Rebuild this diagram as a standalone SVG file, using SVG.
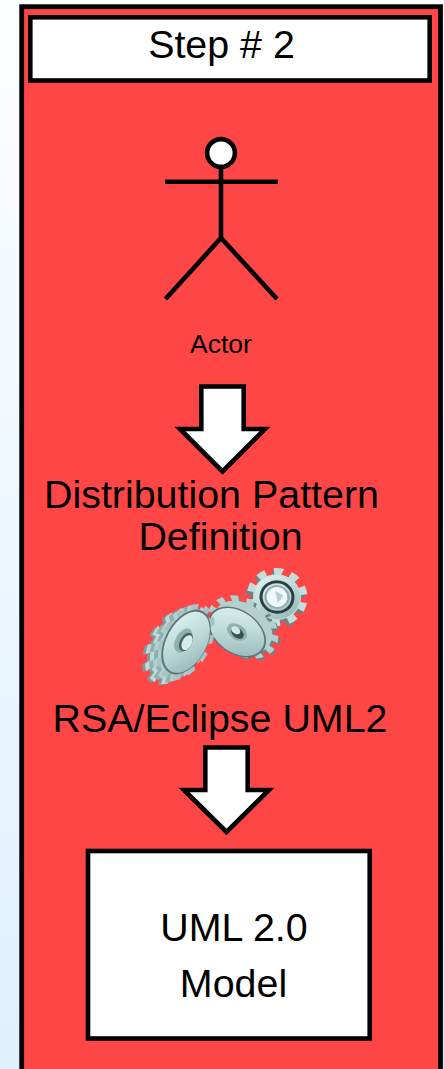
<svg xmlns="http://www.w3.org/2000/svg" width="444" height="1069" viewBox="0 0 444 1069">
<style>
text{font-family:"Liberation Sans",Arial,sans-serif;fill:#000;text-anchor:middle}
.l{font-size:39.4px}
.box{fill:#fff;stroke:#000;stroke-width:4.6}
.line{fill:none;stroke:#000;stroke-width:4.6}
.t{fill:none;stroke:currentColor;stroke-dasharray:1 1}
.b{fill:currentColor}
</style>
<defs>
<linearGradient id="bg" x1="0" y1="0" x2="0" y2="1"><stop offset="0" stop-color="#fdfeff"/><stop offset="1" stop-color="#def0ff"/></linearGradient>
<linearGradient id="face" x1="0" y1="0" x2="1" y2="1"><stop offset="0" stop-color="#e2f5f4"/><stop offset=".5" stop-color="#bcdad9"/><stop offset="1" stop-color="#8fb0b0"/></linearGradient>
<g id="s1" transform="translate(186 642) rotate(28) scale(.6 1)"><circle r="34" class="b"/><circle r="36" pathLength="24" class="t" stroke-width="10"/></g>
<g id="s2" transform="translate(243 627) rotate(35) scale(1 .72)"><circle r="32" class="b"/><circle r="34" pathLength="26" class="t" stroke-width="9"/></g>
<g id="s3" transform="translate(277 597) rotate(12) scale(1 .95)"><circle r="24" class="b"/><circle r="26" pathLength="20" class="t" stroke-width="9"/></g>
</defs>
<rect width="444" height="1069" fill="url(#bg)"/>
<g id="panel"><rect x="21.7" y="6.7" width="418.8" height="1080" fill="#ff4646" stroke="#000" stroke-width="4.8"/></g>
<g id="header"><rect class="box" x="30.3" y="17.3" width="399.4" height="63.2"/><text class="l" x="221.500" y="58">Step # 2</text></g>
<g id="actor">
<circle cx="221" cy="153" r="13.9" class="box"/>
<path class="line" d="M221 167V238M165 181.7H278M165.500 299L221 238L277 299"/>
<text x="221" y="353" font-size="26.500">Actor</text>
</g>
<g id="connectors">
<path class="box" d="M201.300 386.500H243.700V429H265L222.500 471.500L180 429H201.300Z"/>
<path class="box" d="M205.300 747.500H247.700V790H269L226.500 832L184 790H205.300Z"/>
</g>
<g id="pattern"><text class="l" x="211.500" y="508">Distribution Pattern</text><text class="l" x="220.500" y="550">Definition</text></g>
<g id="gears">
<g id="gear3">
<use href="#s3" x="-2" y="3" color="#6b8586"/>
<use href="#s3" color="#c4dedd"/>
<g transform="translate(277 597) rotate(12) scale(1 .95)">
<circle r="23" fill="url(#face)"/>
<circle r="16" fill="none" stroke="#2f3d3e" stroke-width="3"/>
<circle r="11.500" fill="#f0f8f7" stroke="#8fb0b0" stroke-width="2"/>
<path d="M-3 -6L6 -3L2 6Z" fill="#b5cfce"/>
</g>
</g>
<g id="gear2">
<use href="#s2" x="2" y="2" color="#6b8586"/>
<use href="#s2" color="#b3d0cf"/>
<g transform="translate(237 632) rotate(35) scale(1 .68)">
<circle r="32" fill="#5e7677"/>
<circle r="30" fill="url(#face)"/>
<circle r="11" fill="#8fb0b0"/>
<circle cx="1" cy="1" r="7" fill="#3d4e4f"/>
<circle cx="-2" cy="-1" r="5" fill="#cfe8e7"/>
</g>
</g>
<g id="gear1">
<use href="#s1" x="-15" y="5" color="#7f9c9c"/>
<use href="#s1" x="-12" y="4" color="#c0dad9"/>
<use href="#s1" x="-8" y="2.500" color="#8fb0b0"/>
<use href="#s1" x="-4" y="1" color="#b3d0cf"/>
<use href="#s1" color="#a5c4c3"/>
<g transform="translate(186 642) rotate(28) scale(.6 1)">
<circle r="35" fill="#5e7677"/>
<circle r="33" cx="1" fill="url(#face)"/>
<circle r="13" cx="-5" fill="#8fb0b0"/>
<circle r="10" fill="#4a5f61"/>
<circle r="8" cx="2" fill="#d4ecea"/>
</g>
</g>
</g>
<g id="tool"><text class="l" x="220" y="732">RSA/Eclipse UML2</text></g>
<g id="model"><rect class="box" x="88" y="851" width="281.700" height="187.500"/><text class="l" x="234" y="941">UML 2.0</text><text class="l" x="233.500" y="997">Model</text></g>
</svg>
